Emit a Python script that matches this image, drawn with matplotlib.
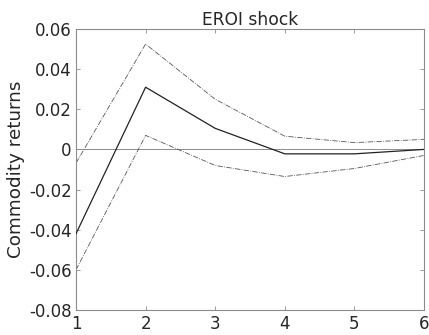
import matplotlib
matplotlib.use("Agg")
import matplotlib.pyplot as plt

horizon = [1, 2, 3, 4, 5, 6]
irf = [-0.042, 0.031, 0.0105, -0.0022, -0.0022, 0.0]
upper = [-0.0068, 0.0525, 0.025, 0.0066, 0.0034, 0.005]
lower = [-0.060, 0.007, -0.008, -0.0135, -0.0095, -0.003]
yticks = [-0.08, -0.06, -0.04, -0.02, 0, 0.02, 0.04, 0.06]
ytick_labels = ["-0.08", "-0.06", "-0.04", "-0.02", "0", "0.02", "0.04", "0.06"]

plt.rcParams["font.family"] = "DejaVu Sans"
fig = plt.figure(figsize=(4.29, 3.35), dpi=100)
ax = fig.add_axes([76 / 429, 1 - 310 / 335, 348 / 429, 281 / 335])

ax.axhline(0, color="#8c8c8c", lw=0.7, zorder=1)
ax.plot(horizon, upper, color="#555555", lw=0.6, ls="-.", zorder=2)
ax.plot(horizon, lower, color="#555555", lw=0.6, ls="-.", zorder=2)
ax.plot(horizon, irf, color="#222222", lw=0.9, zorder=3)

ax.set_xlim(1, 6)
ax.set_ylim(-0.08, 0.06)
ax.set_xticks(horizon)
ax.set_yticks(yticks)
ax.set_yticklabels(ytick_labels)
ax.tick_params(direction="in", length=3, width=0.6, color="#8c8c8c",
               labelsize=12, labelcolor="#262626", top=True, right=True, pad=3)
ax.tick_params(axis="x", pad=3.5)
for s in ax.spines.values():
    s.set_color("#8c8c8c")
    s.set_linewidth(0.8)

ax.set_title("EROI shock", fontsize=12.3, color="#262626", pad=3)
ax.set_ylabel("Commodity returns", fontsize=13.2, color="#262626", labelpad=3)

fig.savefig("out.png", dpi=100, facecolor="white")
